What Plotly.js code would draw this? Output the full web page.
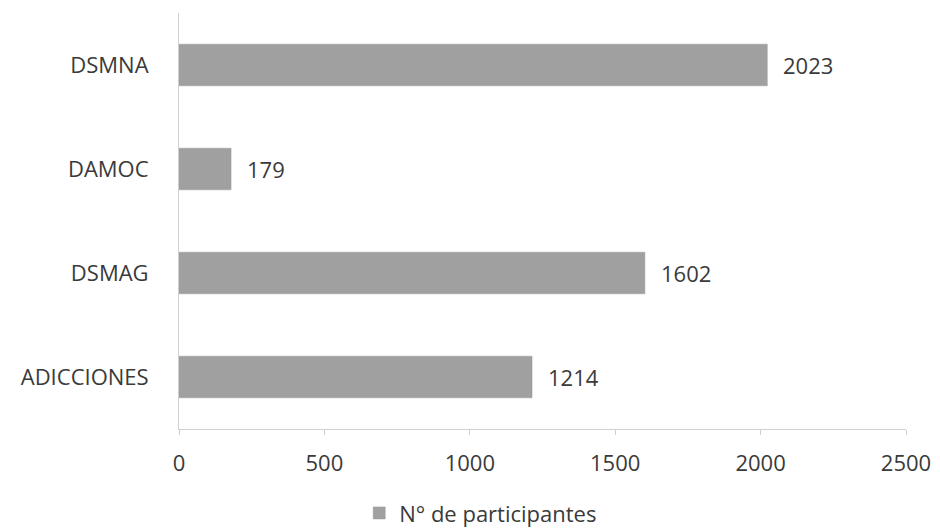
<!DOCTYPE html>
<html>
<head>
<meta charset="utf-8">
<script src="https://cdn.plot.ly/plotly-3.0.1.min.js"></script>
<style>html,body{margin:0;padding:0;background:#fff;}#chart{width:940px;height:529px;}</style>
</head>
<body>
<div id="chart"></div>
<script>
const categories = ["ADICCIONES", "DSMAG", "DAMOC", "DSMNA"];
const participantes = [1214, 1602, 179, 2023];
const seriesName = "N° de participantes";
const xTicks = [0, 500, 1000, 1500, 2000, 2500];

const fontFamily = "'Open Sans', Lato, sans-serif";
const textColor = "#3a3a3a";
const fs = 22;

const trace = {
  type: "bar",
  orientation: "h",
  y: categories,
  x: participantes,
  name: seriesName,
  marker: {color: "#a0a0a0", line: {color: "#999999", width: 0.5}},
  hoverinfo: "x+y",
  showlegend: true
};

const annotations = categories.map((c, i) => ({
  x: participantes[i], y: c, xref: "x", yref: "y",
  text: String(participantes[i]), showarrow: false,
  xanchor: "left", yanchor: "middle", xshift: 14,
  font: {family: fontFamily, size: fs, color: textColor}
}));

const layout = {
  width: 940, height: 529,
  margin: {l: 179, r: 34, t: 13, b: 100},
  paper_bgcolor: "#fff", plot_bgcolor: "#fff",
  font: {family: fontFamily, size: fs, color: textColor},
  bargap: 0.6,
  xaxis: {
    range: [0, 2500], tickvals: xTicks, ticktext: xTicks.map(String),
    showgrid: false, zeroline: false,
    showline: true, linecolor: "#d0d0d0", linewidth: 1,
    ticks: "outside", ticklen: 5, tickcolor: "#d0d0d0",
    ticklabelstandoff: 10,
    tickfont: {family: fontFamily, size: fs, color: textColor}
  },
  yaxis: {
    categoryorder: "array", categoryarray: categories,
    showgrid: false, zeroline: false,
    showline: true, linecolor: "#d0d0d0", linewidth: 1,
    ticks: "", ticklabelstandoff: 25,
    tickfont: {family: fontFamily, size: fs, color: textColor}
  },
  legend: {
    orientation: "h", x: 0.415, xanchor: "center", xref: "paper",
    y: 0.03, yanchor: "middle", yref: "container",
    font: {family: fontFamily, size: fs, color: textColor},
    itemwidth: 30
  },
  annotations: annotations
};

Plotly.newPlot("chart", [trace], layout, {displayModeBar: false, staticPlot: true});
</script>
</body>
</html>
